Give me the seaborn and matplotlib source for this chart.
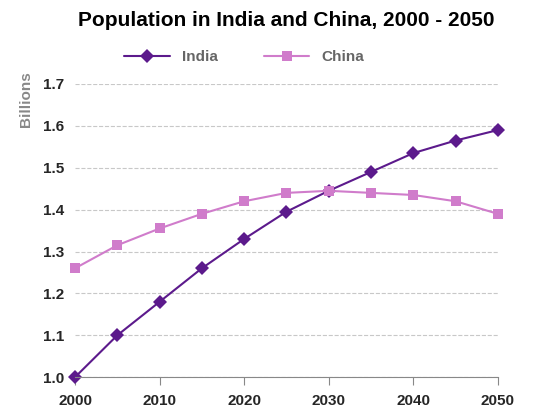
import seaborn as sns
import matplotlib.pyplot as plt
import pandas as pd

sns.set_style('white')
plt.rcParams['font.family'] = ['Liberation Sans', 'DejaVu Sans']

years = [2000, 2005, 2010, 2015, 2020, 2025, 2030, 2035, 2040, 2045, 2050]
india = [1.0, 1.10, 1.18, 1.26, 1.33, 1.395, 1.445, 1.49, 1.535, 1.565, 1.59]
china = [1.26, 1.315, 1.355, 1.39, 1.42, 1.44, 1.445, 1.44, 1.435, 1.42, 1.39]

df = pd.DataFrame({'Year': years * 2,
                   'Pop': india + china,
                   'Country': ['India'] * len(years) + ['China'] * len(years)})

fig, ax = plt.subplots(figsize=(5.6, 4.2), dpi=100)
sns.lineplot(data=df, x='Year', y='Pop', hue='Country', style='Country',
             palette={'India': '#5c1a8c', 'China': '#d07ccb'},
             markers={'India': 'D', 'China': 's'}, dashes=False,
             markersize=7, markeredgewidth=0, linewidth=1.5, ax=ax)
for line in ax.lines:
    line.set_clip_on(False)

ax.set_xlim(2000, 2050)
ax.set_ylim(1.0, 1.7)
ax.set_xticks(range(2000, 2051, 10))
ax.set_yticks([1.0, 1.1, 1.2, 1.3, 1.4, 1.5, 1.6, 1.7])
ax.set_yticklabels(['1.0', '1.1', '1.2', '1.3', '1.4', '1.5', '1.6', '1.7'])
ax.yaxis.grid(True, linestyle='--', color='#c8c8c8')
for s in ['top', 'right', 'left']:
    ax.spines[s].set_visible(False)
ax.spines['bottom'].set_color('#888888')
ax.tick_params(axis='x', bottom=True, length=6, color='#888888', labelsize=11, pad=6)
ax.tick_params(axis='y', length=0, labelsize=11, pad=8)
for lab in ax.get_xticklabels() + ax.get_yticklabels():
    lab.set_fontweight('bold')
ax.set_xlabel('')
ax.set_ylabel('Billions', color='#888888', fontsize=11, fontweight='bold')
ax.yaxis.set_label_coords(-0.1, 0.95)
ax.set_title('Population in India and China, 2000 - 2050', fontsize=15,
             fontweight='bold', color='black', pad=42)
leg = ax.legend(loc='lower center', bbox_to_anchor=(0.4, 1.02), ncol=2,
                frameon=False, fontsize=11, handlelength=3, columnspacing=3)
for t in leg.get_texts():
    t.set_color('#666666')
    t.set_fontweight('bold')

fig.subplots_adjust(left=0.134, right=0.889, top=0.80, bottom=0.102)
fig.savefig('out.png')
